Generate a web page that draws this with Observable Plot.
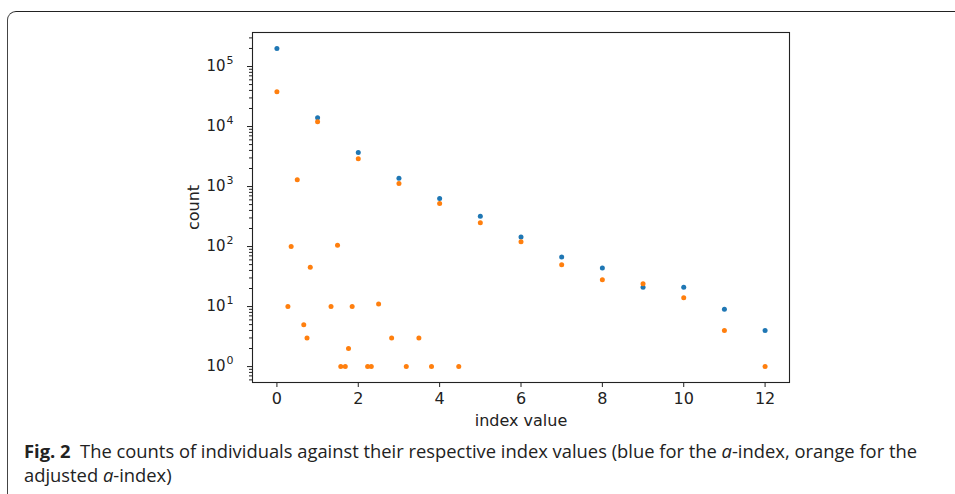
<!DOCTYPE html>
<html><head><meta charset="utf-8">
<script src="https://cdn.jsdelivr.net/npm/d3@7"></script>
<script src="https://cdn.jsdelivr.net/npm/@observablehq/plot@0.6"></script>
<style>
body{margin:0;background:#fff;width:955px;height:494px;overflow:hidden;position:relative;font-family:"Open Sans",sans-serif}
#frame{position:absolute;left:7px;top:11px;width:1100px;height:500px;border-left:1.5px solid #444;border-top:1.5px solid #222;border-top-left-radius:9px;border-bottom-left-radius:9px;border-bottom:1.5px solid #444}
#chart{position:absolute;left:0;top:0}
.cap{position:absolute;left:24px;font-size:18px;line-height:18px;white-space:nowrap;color:#222;transform-origin:0 0}
.cap b{font-weight:700}
</style>
</head><body>
<div id="frame"></div>
<div id="chart"></div>
<div class="cap" id="cap1" style="top:442px"><b>Fig. 2</b>&nbsp; The counts of individuals against their respective index values (blue for the <i>a</i>-index, orange for the</div>
<div class="cap" id="cap2" style="top:466px">adjusted <i>a</i>-index)</div>
<script>
// a-index (blue)
const blueIndex = [0, 1, 2, 3, 4, 5, 6, 7, 8, 9, 10, 11, 12];
const blueCount = [200000, 14000, 3700, 1380, 630, 320, 145, 67, 44, 21, 21, 9, 4];
// adjusted a-index (orange)
const orangeIndex = [0, 1, 2, 3, 4, 5, 6, 7, 8, 9, 10, 11, 12,
  0.27, 0.35, 0.5, 0.66, 0.74, 0.82, 1.33, 1.49, 1.57, 1.68, 1.76, 1.85,
  2.23, 2.32, 2.5, 2.82, 3.18, 3.49, 3.8, 4.47];
const orangeCount = [38000, 12000, 2900, 1120, 520, 250, 120, 50, 28, 24, 14, 4, 1,
  10, 100, 1300, 5, 3, 45, 10, 105, 1, 1, 2, 10,
  1, 1, 11, 3, 1, 3, 1, 1];
const xTicks = [0, 2, 4, 6, 8, 10, 12];
const yTicks = [1, 10, 100, 1000, 10000, 100000];
const xDomain = [-0.6, 12.6];
const yDomain = [0.543, 369000];

const blue = blueIndex.map((x, i) => ({x, y: blueCount[i]}));
const orange = orangeIndex.map((x, i) => ({x, y: orangeCount[i]}));
const minorTicks = [];
for (let k = -1; k <= 5; k++) for (let m = 2; m <= 9; m++) {
  const v = m * Math.pow(10, k);
  if (v >= yDomain[0] && v <= yDomain[1]) minorTicks.push(v);
}
const FS = 16;
const chart = Plot.plot({
  width: 955, height: 430,
  marginLeft: 252, marginRight: 166, marginTop: 32, marginBottom: 48,
  style: {fontFamily: "DejaVu Sans", fontSize: FS + "px", color: "#222", background: "transparent"},
  x: {domain: xDomain},
  y: {type: "log", domain: yDomain},
  marks: [
    Plot.axisX({ticks: xTicks, tickSize: 5, tickPadding: 5, fontSize: FS, label: "index value", labelAnchor: "center", labelArrow: "none", labelOffset: 43, tickFormat: d => String(d)}),
    Plot.axisY({ticks: minorTicks, tickSize: 3, tickFormat: () => "", label: null}),
    Plot.axisY({ticks: yTicks, tickSize: 5, fontSize: FS, tickFormat: () => "", label: "count", labelAnchor: "center", labelArrow: "none", labelOffset: 65}),
    Plot.text(yTicks, {y: d => d, frameAnchor: "left", text: () => "10", textAnchor: "end", dx: -27, fontSize: 15, fill: "#222"}),
    Plot.text(yTicks, {y: d => d, frameAnchor: "left", text: d => String(Math.round(Math.log10(d))), textAnchor: "start", dx: -26, dy: -6, fontSize: 11, fill: "#222"}),
    Plot.frame({stroke: "#222", strokeWidth: 1.1}),
    Plot.dot(blue, {x: "x", y: "y", r: 2.5, fill: "#1f77b4"}),
    Plot.dot(orange, {x: "x", y: "y", r: 2.5, fill: "#ff7f0e"})
  ]
});
document.getElementById("chart").appendChild(chart);

const c1 = document.getElementById("cap1"), c2 = document.getElementById("cap2");
const s = 893 / c1.scrollWidth;
c1.style.transform = c2.style.transform = `scaleX(${s})`;
</script>
</body></html>
